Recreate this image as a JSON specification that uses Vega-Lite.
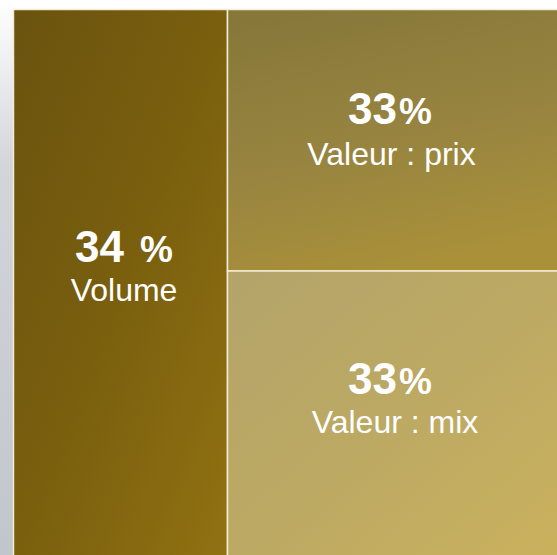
{
  "$schema": "https://vega.github.io/schema/vega-lite/v6.json",
  "width": 557,
  "height": 555,
  "autosize": {"type": "fit", "contains": "padding"},
  "padding": 0,
  "background": "white",
  "config": {"view": {"stroke": null}},
  "datasets": {
    "frame": [{"id": "strip", "x0": 0, "x1": 13, "y0": 0, "y1": 555}],
    "cells": [
      {"id": "volume", "x0": 13.5, "x1": 227.5, "y0": 9.5, "y1": 560, "num": "34", "pct": "%", "label": "Volume", "nx": 124, "px": 140, "ny": 262, "lx": 124, "ly": 301},
      {"id": "prix", "x0": 227.5, "x1": 562, "y0": 9.5, "y1": 271, "num": "33", "pct": "%", "label": "Valeur : prix", "nx": 397, "px": 399, "ny": 124, "lx": 391.5, "ly": 165},
      {"id": "mix", "x0": 227.5, "x1": 562, "y0": 271, "y1": 560, "num": "33", "pct": "%", "label": "Valeur : mix", "nx": 397, "px": 399, "ny": 394, "lx": 395, "ly": 433}
    ]
  },
  "encoding": {},
  "layer": [
    {
      "data": {"name": "frame"},
      "mark": {"type": "rect", "clip": true, "fill": {"gradient": "linear", "x1": 0, "y1": 0, "x2": 0, "y2": 1, "stops": [{"offset": 0, "color": "#ffffff"}, {"offset": 0.3, "color": "#d2d5da"}, {"offset": 1, "color": "#c1c6cd"}]}},
      "encoding": {
        "x": {"field": "x0", "type": "quantitative", "scale": {"domain": [0, 557], "nice": false, "zero": false}, "axis": null},
        "x2": {"field": "x1"},
        "y": {"field": "y0", "type": "quantitative", "scale": {"domain": [0, 555], "nice": false, "zero": false, "reverse": true}, "axis": null},
        "y2": {"field": "y1"}
      }
    },
    {
      "data": {"name": "cells"},
      "transform": [{"filter": "datum.id === 'volume'"}],
      "mark": {"type": "rect", "clip": true, "stroke": "#f3ecd2", "strokeWidth": 1.5, "fill": {"gradient": "linear", "x1": 0, "y1": 0, "x2": 1, "y2": 1, "stops": [{"offset": 0, "color": "#6a530f"}, {"offset": 0.5, "color": "#7a5f0e"}, {"offset": 1, "color": "#917212"}]}},
      "encoding": {
        "x": {"field": "x0", "type": "quantitative", "scale": {"domain": [0, 557], "nice": false, "zero": false}, "axis": null},
        "x2": {"field": "x1"},
        "y": {"field": "y0", "type": "quantitative", "scale": {"domain": [0, 555], "nice": false, "zero": false, "reverse": true}, "axis": null},
        "y2": {"field": "y1"}
      }
    },
    {
      "data": {"name": "cells"},
      "transform": [{"filter": "datum.id === 'prix'"}],
      "mark": {"type": "rect", "clip": true, "stroke": "#f3ecd2", "strokeWidth": 1.5, "fill": {"gradient": "linear", "x1": 0.2, "y1": 0, "x2": 0.5, "y2": 1, "stops": [{"offset": 0, "color": "#877839"}, {"offset": 0.5, "color": "#968340"}, {"offset": 1, "color": "#a99039"}]}},
      "encoding": {
        "x": {"field": "x0", "type": "quantitative", "scale": {"domain": [0, 557], "nice": false, "zero": false}, "axis": null},
        "x2": {"field": "x1"},
        "y": {"field": "y0", "type": "quantitative", "scale": {"domain": [0, 555], "nice": false, "zero": false, "reverse": true}, "axis": null},
        "y2": {"field": "y1"}
      }
    },
    {
      "data": {"name": "cells"},
      "transform": [{"filter": "datum.id === 'mix'"}],
      "mark": {"type": "rect", "clip": true, "stroke": "#f3ecd2", "strokeWidth": 1.5, "fill": {"gradient": "linear", "x1": 0, "y1": 0, "x2": 1, "y2": 1, "stops": [{"offset": 0, "color": "#b3a46a"}, {"offset": 0.5, "color": "#bca963"}, {"offset": 1, "color": "#cab15d"}]}},
      "encoding": {
        "x": {"field": "x0", "type": "quantitative", "scale": {"domain": [0, 557], "nice": false, "zero": false}, "axis": null},
        "x2": {"field": "x1"},
        "y": {"field": "y0", "type": "quantitative", "scale": {"domain": [0, 555], "nice": false, "zero": false, "reverse": true}, "axis": null},
        "y2": {"field": "y1"}
      }
    },
    {
      "data": {"name": "cells"},
      "mark": {"type": "text", "align": "right", "baseline": "alphabetic", "font": "Liberation Sans", "fontSize": 44, "fontWeight": "bold", "color": "white"},
      "encoding": {
        "x": {"field": "nx", "type": "quantitative", "scale": {"domain": [0, 557], "nice": false, "zero": false}, "axis": null},
        "y": {"field": "ny", "type": "quantitative", "scale": {"domain": [0, 555], "nice": false, "zero": false, "reverse": true}, "axis": null},
        "text": {"field": "num"}
      }
    },
    {
      "data": {"name": "cells"},
      "mark": {"type": "text", "align": "left", "baseline": "alphabetic", "font": "Liberation Sans", "fontSize": 37, "fontWeight": "bold", "color": "white"},
      "encoding": {
        "x": {"field": "px", "type": "quantitative", "scale": {"domain": [0, 557], "nice": false, "zero": false}, "axis": null},
        "y": {"field": "ny", "type": "quantitative", "scale": {"domain": [0, 555], "nice": false, "zero": false, "reverse": true}, "axis": null},
        "text": {"field": "pct"}
      }
    },
    {
      "data": {"name": "cells"},
      "mark": {"type": "text", "align": "center", "baseline": "alphabetic", "font": "Liberation Sans", "fontSize": 32, "color": "white"},
      "encoding": {
        "x": {"field": "lx", "type": "quantitative", "scale": {"domain": [0, 557], "nice": false, "zero": false}, "axis": null},
        "y": {"field": "ly", "type": "quantitative", "scale": {"domain": [0, 555], "nice": false, "zero": false, "reverse": true}, "axis": null},
        "text": {"field": "label"}
      }
    }
  ]
}
